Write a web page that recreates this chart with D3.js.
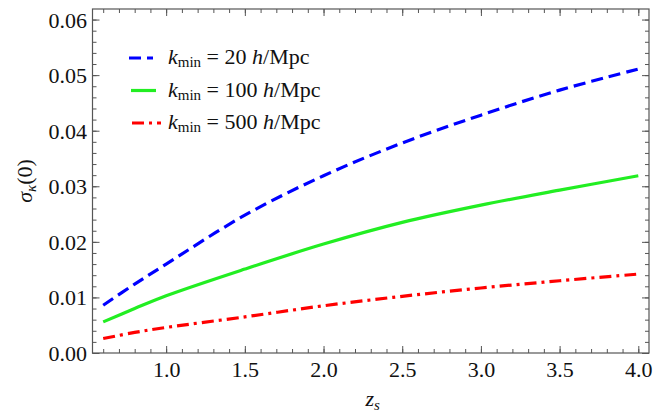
<!DOCTYPE html>
<html>
<head>
<meta charset="utf-8">
<script src="https://cdn.jsdelivr.net/npm/d3@7"></script>
<style>
  body { margin: 0; background: #fff; }
  .axis path { stroke: none; }
  .axis line { stroke: #555; stroke-width: 1; }
</style>
</head>
<body>
<svg id="svg" width="663" height="413"></svg>
<script>
var FONT = "'Times New Roman', 'Liberation Serif', Times, serif";

// redshift values where curves were read
var zs = [0.6, 0.8, 1.0, 1.5, 2.0, 2.5, 3.0, 3.5, 4.0];
// sigma_kappa(0) for each k_min
var sig20  = [0.0086, 0.0124, 0.0160, 0.0248, 0.0319, 0.0378, 0.0428, 0.0473, 0.0511];
var sig100 = [0.0056, 0.0080, 0.0103, 0.0151, 0.0196, 0.0235, 0.0266, 0.0293, 0.0319];
var sig500 = [0.0026, 0.0037, 0.0046, 0.0065, 0.0085, 0.0102, 0.0117, 0.0130, 0.0142];
var seriesNames = ["20", "100", "500"];

var xTicks = [1.0, 1.5, 2.0, 2.5, 3.0, 3.5, 4.0];
var yTicks = [0.00, 0.01, 0.02, 0.03, 0.04, 0.05, 0.06];

var svg = d3.select("#svg").style("font-family", FONT);
var padding = {top: 9, right: 14, bottom: 60, left: 92.5};
var W = 663, H = 413;
var chartArea = {
  width: W - padding.left - padding.right,
  height: H - padding.top - padding.bottom
};

var xScale = d3.scaleLinear().domain([0.532, 4.068]).range([0, chartArea.width]);
var yScale = d3.scaleLinear().domain([0, 0.0619]).range([chartArea.height, 0]);

var xMinor = d3.range(6, 41).map(function(d) { return d / 10; });
var yMinor = d3.range(0, 31).map(function(d) { return d * 0.002; });

var g = svg.append("g")
  .attr("transform", "translate(" + padding.left + "," + padding.top + ")");

// minor ticks (all four sides)
g.append("g").attr("class", "axis")
  .attr("transform", "translate(0," + chartArea.height + ")")
  .call(d3.axisBottom(xScale).tickValues(xMinor).tickSize(-4).tickFormat(""));
g.append("g").attr("class", "axis")
  .call(d3.axisTop(xScale).tickValues(xMinor).tickSize(-4).tickFormat(""));
g.append("g").attr("class", "axis")
  .call(d3.axisLeft(yScale).tickValues(yMinor).tickSize(-4).tickFormat(""));
g.append("g").attr("class", "axis")
  .attr("transform", "translate(" + chartArea.width + ",0)")
  .call(d3.axisRight(yScale).tickValues(yMinor).tickSize(-4).tickFormat(""));

// major ticks
var xAxis = g.append("g").attr("class", "axis")
  .attr("transform", "translate(0," + chartArea.height + ")")
  .call(d3.axisBottom(xScale).tickValues(xTicks).tickSize(-7).tickFormat(d3.format(".1f")));
xAxis.attr("font-family", FONT).attr("font-size", 22);
xAxis.selectAll("text").attr("y", 24).attr("dy", "0").attr("fill", "#111");
g.append("g").attr("class", "axis")
  .call(d3.axisTop(xScale).tickValues(xTicks).tickSize(-7).tickFormat(""));

var yAxis = g.append("g").attr("class", "axis")
  .call(d3.axisLeft(yScale).tickValues(yTicks).tickSize(-7).tickFormat(d3.format(".2f")));
yAxis.attr("font-family", FONT).attr("font-size", 22);
yAxis.selectAll("text").attr("x", -5.5).attr("dy", "0.34em").attr("fill", "#111");
g.append("g").attr("class", "axis")
  .attr("transform", "translate(" + chartArea.width + ",0)")
  .call(d3.axisRight(yScale).tickValues(yTicks).tickSize(-7).tickFormat(""));

// frame
g.append("rect")
  .attr("width", chartArea.width).attr("height", chartArea.height)
  .attr("fill", "none").attr("stroke", "#555").attr("stroke-width", 1.2);

// curves
var styles = [
  {color: "#0000ff", dash: "12,6", lx: [0, 24]},
  {color: "#22ee22", dash: null, lx: [2, 27]},
  {color: "#ff0000", dash: "12,5,3,5", lx: [3, 32]}
];
var allSeries = [sig20, sig100, sig500];

var line = d3.line()
  .x(function(d) { return xScale(d[0]); })
  .y(function(d) { return yScale(d[1]); })
  .curve(d3.curveCatmullRom);

allSeries.forEach(function(vals, i) {
  var pts = zs.map(function(z, j) { return [z, vals[j]]; });
  g.append("path")
    .datum(pts)
    .attr("d", line)
    .attr("fill", "none")
    .attr("stroke", styles[i].color)
    .attr("stroke-width", 3.2)
    .attr("stroke-dasharray", styles[i].dash);
});

// legend
var legend = svg.append("g").attr("transform", "translate(129,58)");
seriesNames.forEach(function(name, i) {
  var row = legend.append("g").attr("transform", "translate(0," + (i * 32.5) + ")");
  row.append("line")
    .attr("x1", styles[i].lx[0]).attr("x2", styles[i].lx[1]).attr("y1", 0).attr("y2", 0)
    .attr("stroke", styles[i].color).attr("stroke-width", 3.2)
    .attr("stroke-dasharray", styles[i].dash);
  var t = row.append("text").attr("x", 39).attr("y", 6)
    .attr("font-family", FONT).attr("font-size", 22).attr("fill", "#111");
  t.append("tspan").attr("font-style", "italic").text("k");
  t.append("tspan").attr("font-size", 15).attr("dy", 3).text("min");
  t.append("tspan").attr("dy", -3).text(" = " + name + " ");
  t.append("tspan").attr("font-style", "italic").text("h");
  t.append("tspan").text("/Mpc");
});

// axis titles
var yt = svg.append("text")
  .attr("transform", "translate(32," + (padding.top + chartArea.height / 2) + ") rotate(-90)")
  .attr("text-anchor", "middle").attr("font-family", FONT)
  .attr("font-size", 22).attr("fill", "#111");
yt.append("tspan").attr("font-style", "italic").text("σ");
yt.append("tspan").attr("font-style", "italic").attr("font-size", 15).attr("dy", 4).text("κ");
yt.append("tspan").attr("dy", -4).text("(0)");

var xt = svg.append("text")
  .attr("x", padding.left + chartArea.width / 2 + 2).attr("y", 406)
  .attr("text-anchor", "middle").attr("font-family", FONT)
  .attr("font-size", 22).attr("fill", "#111");
xt.append("tspan").attr("font-style", "italic").text("z");
xt.append("tspan").attr("font-style", "italic").attr("font-size", 15).attr("dy", 4).text("s");
</script>
</body>
</html>
